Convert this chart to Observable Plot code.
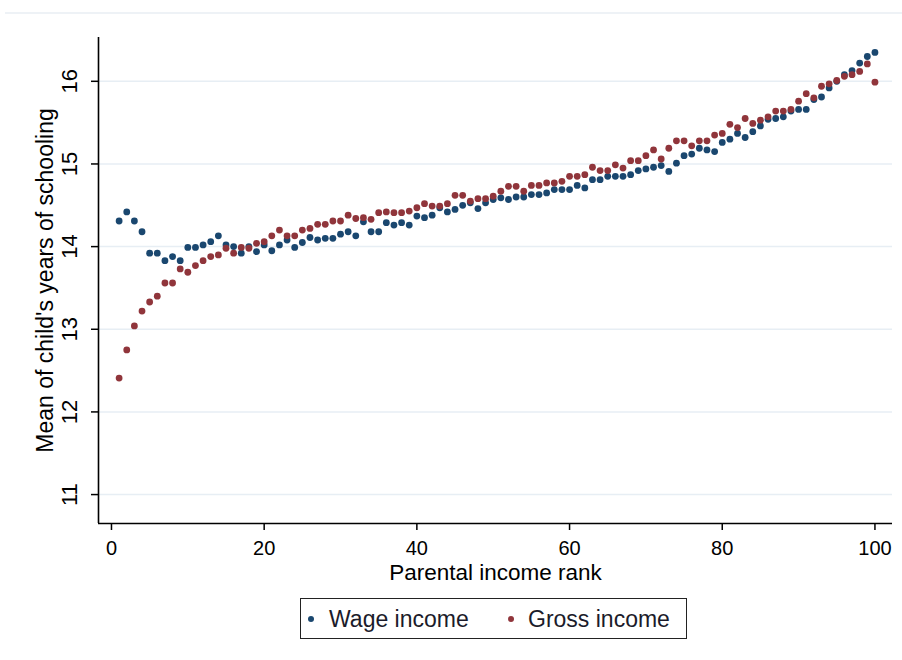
<!DOCTYPE html>
<html>
<head>
<meta charset="utf-8">
<script src="https://cdn.jsdelivr.net/npm/d3@7"></script>
<script src="https://cdn.jsdelivr.net/npm/@observablehq/plot@0.6"></script>
<style>
  body { margin: 0; background: #fff; font-family: "Liberation Sans", Arial, sans-serif; }
  #wrap { position: relative; width: 902px; height: 660px; overflow: hidden; }
  #topline { position: absolute; left: 5px; right: 0; top: 12px; height: 2px; background: #eef2f6; }
  #chart { position: absolute; left: 0; top: 0; }
  #legend { position: absolute; left: 300px; top: 598px; width: 385px; height: 39px;
            border: 1.5px solid #222; font-size: 23px; color: #1b1b2a; }
  .li { position: absolute; top: 0; height: 39px; line-height: 40px; white-space: nowrap; }
  .mk { position: absolute; top: 17px; width: 6px; height: 6px; border-radius: 50%; }
</style>
</head>
<body>
<div id="wrap">
  <div id="topline"></div>
  <div id="chart"></div>
  <div id="legend"></div>
</div>
<script>
// ---- data ----
const ranks = d3.range(1, 101);
const wageIncome = [
  14.31, 14.42, 14.31, 14.18, 13.92, 13.92, 13.83, 13.88, 13.83, 13.99,
  13.99, 14.02, 14.06, 14.13, 14.02, 14.00, 13.92, 14.00, 13.94, 14.02,
  13.95, 14.02, 14.08, 13.99, 14.05, 14.11, 14.08, 14.10, 14.10, 14.15,
  14.18, 14.13, 14.30, 14.18, 14.18, 14.29, 14.26, 14.29, 14.26, 14.37,
  14.35, 14.38, 14.47, 14.42, 14.45, 14.50, 14.53, 14.46, 14.53, 14.57,
  14.59, 14.57, 14.60, 14.60, 14.63, 14.63, 14.65, 14.69, 14.69, 14.69,
  14.74, 14.71, 14.81, 14.81, 14.85, 14.85, 14.85, 14.87, 14.92, 14.94,
  14.96, 14.98, 14.91, 15.01, 15.10, 15.12, 15.19, 15.17, 15.15, 15.26,
  15.30, 15.37, 15.32, 15.39, 15.46, 15.54, 15.55, 15.57, 15.64, 15.66,
  15.66, 15.78, 15.81, 15.92, 16.00, 16.08, 16.13, 16.22, 16.30, 16.35
];
const grossIncome = [
  12.41, 12.75, 13.04, 13.22, 13.33, 13.40, 13.56, 13.56, 13.73, 13.69,
  13.77, 13.83, 13.88, 13.90, 13.98, 13.92, 13.99, 13.98, 14.04, 14.06,
  14.13, 14.20, 14.13, 14.13, 14.20, 14.22, 14.27, 14.27, 14.31, 14.31,
  14.38, 14.34, 14.35, 14.33, 14.41, 14.42, 14.41, 14.41, 14.43, 14.47,
  14.52, 14.49, 14.49, 14.52, 14.62, 14.62, 14.55, 14.58, 14.58, 14.61,
  14.67, 14.73, 14.73, 14.67, 14.74, 14.74, 14.77, 14.77, 14.79, 14.85,
  14.85, 14.87, 14.96, 14.92, 14.92, 14.99, 14.95, 15.04, 15.04, 15.10,
  15.17, 15.06, 15.19, 15.28, 15.28, 15.22, 15.28, 15.28, 15.35, 15.37,
  15.48, 15.44, 15.55, 15.49, 15.53, 15.57, 15.64, 15.64, 15.66, 15.76,
  15.85, 15.80, 15.94, 15.97, 16.01, 16.06, 16.08, 16.12, 16.21, 15.99
];
const seriesNames = ["Wage income", "Gross income"];
const seriesColors = ["#1a476f", "#90353b"];
const xTicks = [0, 20, 40, 60, 80, 100];
const yTicks = [11, 12, 13, 14, 15, 16];
const xDomain = [-1.7, 102.3];
const yDomain = [10.65, 16.53];
const xTitle = "Parental income rank";
const yTitle = "Mean of child's years of schooling";

const wageData = ranks.map((r, i) => ({rank: r, value: wageIncome[i]}));
const grossData = ranks.map((r, i) => ({rank: r, value: grossIncome[i]}));

const chart = Plot.plot({
  width: 902,
  height: 590,
  marginLeft: 98,
  marginRight: 10,
  marginTop: 37,
  marginBottom: 67,
  style: { fontFamily: "'Liberation Sans', Arial, sans-serif", fontSize: "21px", color: "#000", background: "transparent" },
  x: { domain: xDomain },
  y: { domain: yDomain },
  marks: [
    Plot.gridY(yTicks, { stroke: "#e7eef4", strokeOpacity: 1, strokeWidth: 1.5 }),
    Plot.axisX(xTicks, { tickSize: 7, tickPadding: 10, label: null, strokeWidth: 1.5, fontSize: 20, tickFormat: d3.format("d") }),
    Plot.axisY(yTicks, { tickSize: 7, tickPadding: 15, tickRotate: -90, label: null, strokeWidth: 1.5, fontSize: 22, tickFormat: d3.format("d") }),
    Plot.ruleX([xDomain[0]], { stroke: "#000", strokeWidth: 1.6 }),
    Plot.ruleY([yDomain[0]], { stroke: "#000", strokeWidth: 1.6 }),
    Plot.dot(wageData, { x: "rank", y: "value", r: 3.4, fill: seriesColors[0], stroke: "none" }),
    Plot.dot(grossData, { x: "rank", y: "value", r: 3.4, fill: seriesColors[1], stroke: "none" }),
    Plot.text([xTitle], { text: d => d, frameAnchor: "bottom", textAnchor: "middle", dy: 56, fontSize: 22.5, fill: "#000" }),
    Plot.text([yTitle], { text: d => d, frameAnchor: "left", textAnchor: "middle", dx: -53, rotate: -90, fontSize: 23, fill: "#000" })
  ]
});
document.getElementById("chart").appendChild(chart);

// ---- legend ----
const legend = document.getElementById("legend");
const offsets = [[7, 28], [207, 227]];
seriesNames.forEach((name, i) => {
  const mk = document.createElement("div");
  mk.className = "mk";
  mk.style.left = offsets[i][0] + "px";
  mk.style.background = seriesColors[i];
  legend.appendChild(mk);
  const t = document.createElement("div");
  t.className = "li";
  t.style.left = offsets[i][1] + "px";
  t.textContent = name;
  legend.appendChild(t);
});
</script>
</body>
</html>
